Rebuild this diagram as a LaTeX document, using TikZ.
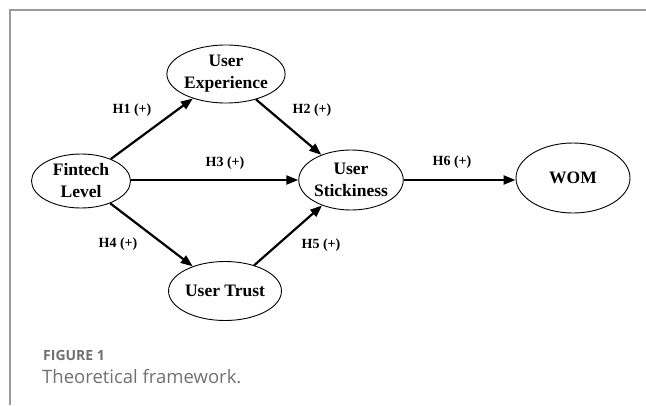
\documentclass[tikz,border=0pt]{standalone}
\usepackage{fontspec}
\setmainfont{Liberation Serif}
\newfontfamily\capfont{Open Sans}
\usetikzlibrary{shapes.geometric,arrows.meta}
\definecolor{capgray}{HTML}{707070}
\definecolor{framegray}{HTML}{9A9A9A}
\begin{document}
\begin{tikzpicture}[x=1pt,y=-1pt,
  cons/.style={draw,ellipse,line width=0.9pt,inner sep=0pt,align=center,font=\fontsize{17.5}{22}\selectfont\bfseries},
  hyp/.style={-{Triangle[length=12pt,width=9pt]},line width=2.2pt},
  hlab/.style={font=\fontsize{14}{16}\selectfont\bfseries}]
  \useasboundingbox (0,0) rectangle (646,405);
  \draw[framegray,line width=2pt] (10,405) -- (10,10) -- (646,10);
  \node[cons,minimum width=98pt,minimum height=58pt] (ue) at (226,74){User\\Experience};
  \node[cons,minimum width=99pt,minimum height=54pt] (fin) at (81,181){Fintech\\Level};
  \node[cons,minimum width=98pt,minimum height=60pt] (us) at (351,180){User\\Stickiness};
  \node[cons,minimum width=114pt,minimum height=70pt] (wom) at (573,178){WOM};
  \node[cons,minimum width=98pt,minimum height=59pt] (ut) at (225,291){User Trust};
  \draw[hyp] (fin) -- (ue);
  \draw[hyp] (ue) -- (us);
  \draw[hyp] (fin.east |- 0,180) -- (us.west |- 0,180);
  \draw[hyp] (us.east |- 0,180) -- (wom.west |- 0,180);
  \draw[hyp] (fin) -- (ut);
  \draw[hyp] (ut) -- (us);
  \node[hlab] (h1) at (132,110){H1 (+)};
  \node[hlab] (h2) at (312,110){H2 (+)};
  \node[hlab] (h3) at (225,163){H3 (+)};
  \node[hlab] (h6) at (452,162){H6 (+)};
  \node[hlab] (h4) at (118,244){H4 (+)};
  \node[hlab] (h5) at (321,245){H5 (+)};
  \node[anchor=west,text=capgray,font=\capfont\fontsize{14}{16}\selectfont\bfseries,inner sep=0pt] (fig) at (43,355){FIGURE 1};
  \node[anchor=west,text=capgray,font=\capfont\fontsize{18.5}{20}\selectfont,inner sep=0pt] (cap) at (42,377){Theoretical framework.};
\end{tikzpicture}
\end{document}
